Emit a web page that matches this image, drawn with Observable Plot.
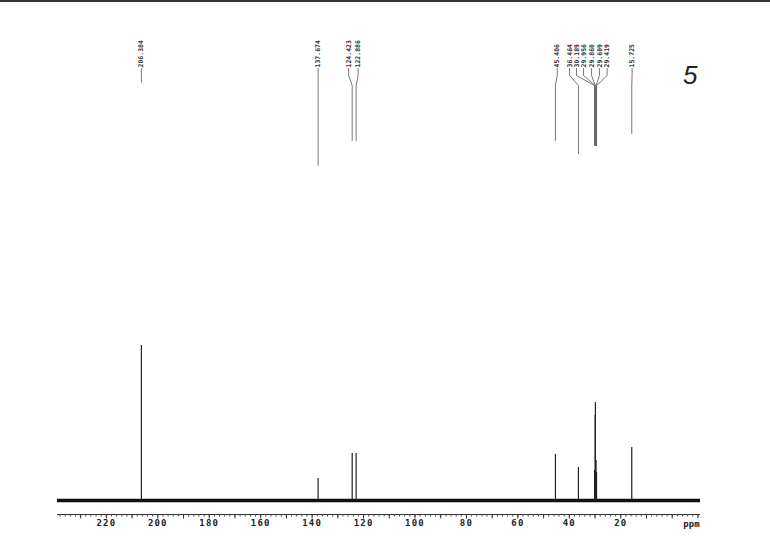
<!DOCTYPE html>
<html>
<head>
<meta charset="utf-8">
<script src="https://cdn.jsdelivr.net/npm/d3@7"></script>
<script src="https://cdn.jsdelivr.net/npm/@observablehq/plot@0.6"></script>
<style>
  html, body { margin: 0; padding: 0; background: #fff; }
  #wrap { position: relative; width: 770px; height: 559px; overflow: hidden; }
  #topbar { position: absolute; left: 0; top: 0; width: 770px; height: 2px; background: #333; }
  #wrap svg g[aria-label="x-axis tick label"] text { letter-spacing: 1.2px; }
</style>
</head>
<body>
<div id="wrap"><div id="topbar"></div></div>
<script>
// ---- data ----
const peakLabels = ["206.384", "137.674", "124.423", "122.886", "45.406", "36.464",
                    "30.189", "29.956", "29.860", "29.609", "29.419", "15.725"];
const peakPpm    = [206.384, 137.674, 124.423, 122.886, 45.406, 36.464,
                    30.189, 29.956, 29.860, 29.609, 29.419, 15.725];
const peakHeight = [155, 22, 47, 47, 46, 33, 30, 85, 98, 40, 28, 53];
// where each printed label sits on the ppm axis (labels are spread apart)
const labelPpm   = [206.384, 137.674, 125.8, 122.1, 44.7, 39.9,
                    37.2, 34.5, 31.4, 28.3, 25.3, 15.6];
// lower end of each label's leader line (same units as intensity)
const leaderEnd  = [418, 335, 360, 360, 360, 347, 355, 355, 355, 355, 355, 367];

const tickLabels = [220, 200, 180, 160, 140, 120, 100, 80, 60, 40, 20];
const majorTicks = [230, 220, 210, 200, 190, 180, 170, 160, 150, 140, 130, 120, 110, 100,
                    90, 80, 70, 60, 50, 40, 30, 20, 10, 0, -10];
const minorTicks = d3.range(238, -11, -2);
const sampleId = "5";

// ---- derived tables ----
const idx = peakPpm.map((_, i) => i);
const leaderTop = 432, bend1 = 425, bend2 = 415;
const leaders = idx.flatMap(i => [
  {id: i, x: labelPpm[i], y: leaderTop},
  {id: i, x: labelPpm[i], y: Math.max(bend1, leaderEnd[i])},
  {id: i, x: peakPpm[i], y: Math.max(bend2, leaderEnd[i])},
  {id: i, x: peakPpm[i], y: leaderEnd[i]}
]);

const mono = "DejaVu Sans Mono";

const chart = Plot.plot({
  width: 770,
  height: 559,
  marginLeft: 57,
  marginRight: 70,
  marginTop: 0,
  marginBottom: 45,
  style: {background: "transparent", overflow: "visible"},
  x: {domain: [239, -11], axis: null},
  y: {domain: [-14, 500], axis: null},
  marks: [
    // axis line
    Plot.ruleY([-14], {stroke: "#333", strokeWidth: 1}),
    // minor & major ticks
    Plot.axisX(minorTicks, {tickSize: 2.5, fill: "none", stroke: "#444", label: null}),
    Plot.axisX(majorTicks, {tickSize: 4.5, fill: "none", stroke: "#333", label: null}),
    Plot.axisX(tickLabels, {tickSize: 0, tickPadding: 5, fontSize: 9, fontFamily: mono,
                             fontWeight: "bold", fill: "#222", label: null}),
    Plot.text(["ppm"], {x: -7.5, y: -24, text: d => d, fontSize: 9, fontFamily: mono,
                        fontWeight: "bold", fill: "#222"}),
    // noisy baseline
    Plot.ruleY([0], {stroke: "#111", strokeWidth: 3.5}),
    // peaks
    Plot.ruleX(idx, {x: i => peakPpm[i], y1: 0, y2: i => peakHeight[i],
                     stroke: "#222", strokeWidth: 1.2}),
    // leader lines
    Plot.line(leaders, {x: "x", y: "y", z: "id", stroke: "#555", strokeWidth: 0.8}),
    // peak labels
    Plot.text(idx, {x: i => labelPpm[i], y: leaderTop + 1, text: i => peakLabels[i],
                    rotate: -90, textAnchor: "start", fontSize: 6.5, fontFamily: mono,
                    fontWeight: "bold", fill: "#333"}),
    // handwritten sample number
    Plot.text([sampleId], {x: -7, y: 425, text: d => d, fontSize: 26, fontStyle: "italic",
                           fontFamily: "Liberation Sans", fontWeight: 300, fill: "#222"})
  ]
});

document.getElementById("wrap").appendChild(chart);
</script>
</body>
</html>
